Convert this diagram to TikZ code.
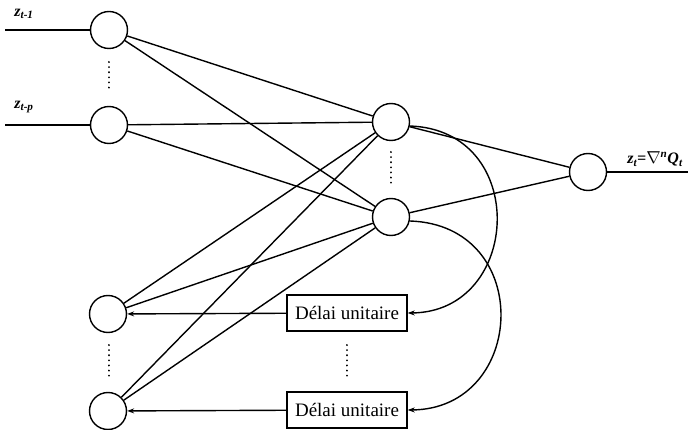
\documentclass[tikz,border=0pt]{standalone}
\usepackage{fontspec}
\setmainfont{Liberation Serif}
\usetikzlibrary{arrows.meta}
\begin{document}
\begin{tikzpicture}[x=1pt,y=-1pt, line width=1.4pt,
  neuron/.style={circle,draw,minimum size=37pt,inner sep=0pt},
  delaybox/.style={draw,minimum width=120pt,minimum height=36pt,inner sep=0pt,font=\fontsize{19}{21}\selectfont},
  dotsline/.style={line width=2pt, dash pattern=on 0.1pt off 5pt, line cap=round},
  tip/.style={-{Stealth[length=7pt,width=5pt]}},
  lab/.style={font=\fontsize{16}{18}\selectfont\bfseries\itshape, inner sep=0pt}]
\useasboundingbox (0,0) rectangle (688,430);
% nodes
\node[neuron] (i1) at (109,30) {};
\node[neuron] (i2) at (109,125) {};
\node[neuron] (h1) at (391,122) {};
\node[neuron] (h2) at (391,217) {};
\node[neuron] (o) at (588,172) {};
\node[neuron] (c1) at (108,314) {};
\node[neuron] (c2) at (108,411) {};
\node[delaybox] (d1) at (347,313) {Délai unitaire};
\node[delaybox] (d2) at (347,410) {Délai unitaire};
% free ends
\coordinate (x1) at (5,30);
\coordinate (x2) at (5,125);
\coordinate (y) at (688,172);
% labels
\node[lab] (l1) at (24,14) {z\textsubscript{t-1}};
\node[lab] (l2) at (24,107) {z\textsubscript{t-p}};
\node[lab] (lo) at (655,159) {z\textsubscript{t}=$\nabla$\textsuperscript{n}Q\textsubscript{t}};
% dots
\draw[dotsline] (109,62) -- (109,90);
\draw[dotsline] (391,152) -- (391,184);
\draw[dotsline] (109,345) -- (109,378);
\draw[dotsline] (347,345) -- (347,378);
% connections
\draw (x1) -- (i1);
\draw (x2) -- (i2);
\draw (o) -- (y);
\draw (i1) -- (h1);
\draw (i1) -- (h2);
\draw (i2) -- (h1);
\draw (i2) -- (h2);
\draw (c1) -- (h1);
\draw (c1) -- (h2);
\draw (c2) -- (h1);
\draw (c2) -- (h2);
\draw (h1) -- (o);
\draw (h2) -- (o);
\draw[tip] (d1) -- (c1);
\draw[tip] (d2) -- (c2);
\draw[tip] (h1.-12) .. controls (530,130) and (522,312) .. (d1.east);
\draw[tip] (h2.-12) .. controls (535,225) and (527,409) .. (d2.east);
\end{tikzpicture}
\end{document}
